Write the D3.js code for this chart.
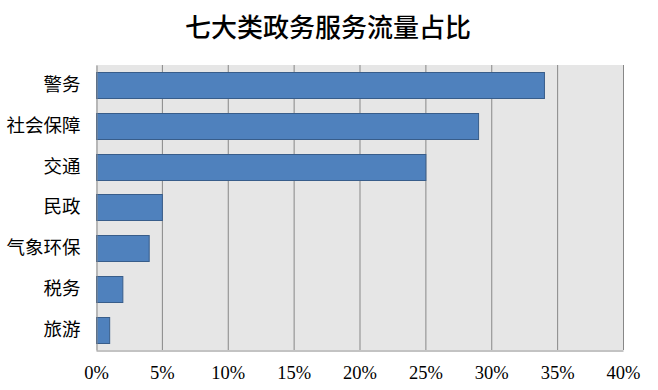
<!DOCTYPE html>
<html>
<head>
<meta charset="utf-8">
<script src="https://cdn.jsdelivr.net/npm/d3@7"></script>
<style>
  body { margin: 0; background: #fff; }
  svg { display: block; }
</style>
</head>
<body>
<div id="chart"></div>
<script>
// data
let categories = ["警务", "社会保障", "交通", "民政", "气象环保", "税务", "旅游"];
let shares = [34, 29, 25, 5, 4, 2, 1];
let ticks = [0, 5, 10, 15, 20, 25, 30, 35, 40];
let title = "七大类政务服务流量占比";

let width = 658, height = 390;
let margin = {top: 65, right: 35, bottom: 40, left: 96};

let svg = d3.select("#chart").append("svg")
  .attr("width", width)
  .attr("height", height);

let x = d3.scaleLinear().domain([0, 40]).range([margin.left, width - margin.right]);
let y = d3.scaleBand().domain(categories).range([margin.top, height - margin.bottom]).paddingInner(0.36).paddingOuter(0.18);

// plot background
svg.append("rect")
  .attr("x", x(0))
  .attr("y", margin.top)
  .attr("width", x(40) - x(0))
  .attr("height", height - margin.bottom - margin.top)
  .attr("fill", "#e6e6e6");

// vertical grid lines
svg.append("g")
  .selectAll("line")
  .data(ticks.slice(1))
  .join("line")
  .attr("x1", d => x(d) + 0.5)
  .attr("x2", d => x(d) + 0.5)
  .attr("y1", margin.top)
  .attr("y2", height - margin.bottom)
  .attr("stroke", "#878787")
  .attr("stroke-width", 1);

// bars
svg.append("g")
  .selectAll("rect")
  .data(shares)
  .join("rect")
  .attr("x", x(0) + 0.5)
  .attr("y", (d, i) => Math.round(y(categories[i])) + 0.5)
  .attr("width", d => x(d) - x(0))
  .attr("height", Math.round(y.bandwidth()))
  .attr("fill", "#4f81bd")
  .attr("stroke", "#385d8a")
  .attr("stroke-width", 1);

// axes
let xAxis = svg.append("g")
  .attr("transform", `translate(0,${height - margin.bottom + 0.5})`)
  .call(d3.axisBottom(x).tickValues(ticks).tickFormat(d => d + "%").tickSize(0).tickPadding(15));
xAxis.select(".domain").attr("stroke", "#878787");
xAxis.selectAll("text")
  .attr("fill", "#000")
  .style("font-family", "'Liberation Serif', 'DejaVu Serif', serif")
  .style("font-size", "18.5px");

let yAxis = svg.append("g")
  .attr("transform", `translate(${margin.left + 0.5},0)`)
  .call(d3.axisLeft(y).tickSize(0).tickPadding(16));
yAxis.select(".domain").attr("stroke", "#878787");
yAxis.selectAll("text")
  .attr("fill", "#000")
  .style("font-family", "'Noto Sans CJK SC', sans-serif")
  .style("font-size", "18.5px");

// title
svg.append("text")
  .attr("x", 328)
  .attr("y", 37)
  .attr("text-anchor", "middle")
  .style("font-family", "'Noto Sans CJK SC', serif")
  .style("font-size", "26px")
  .style("font-weight", "500")
  .text(title);
</script>
</body>
</html>
